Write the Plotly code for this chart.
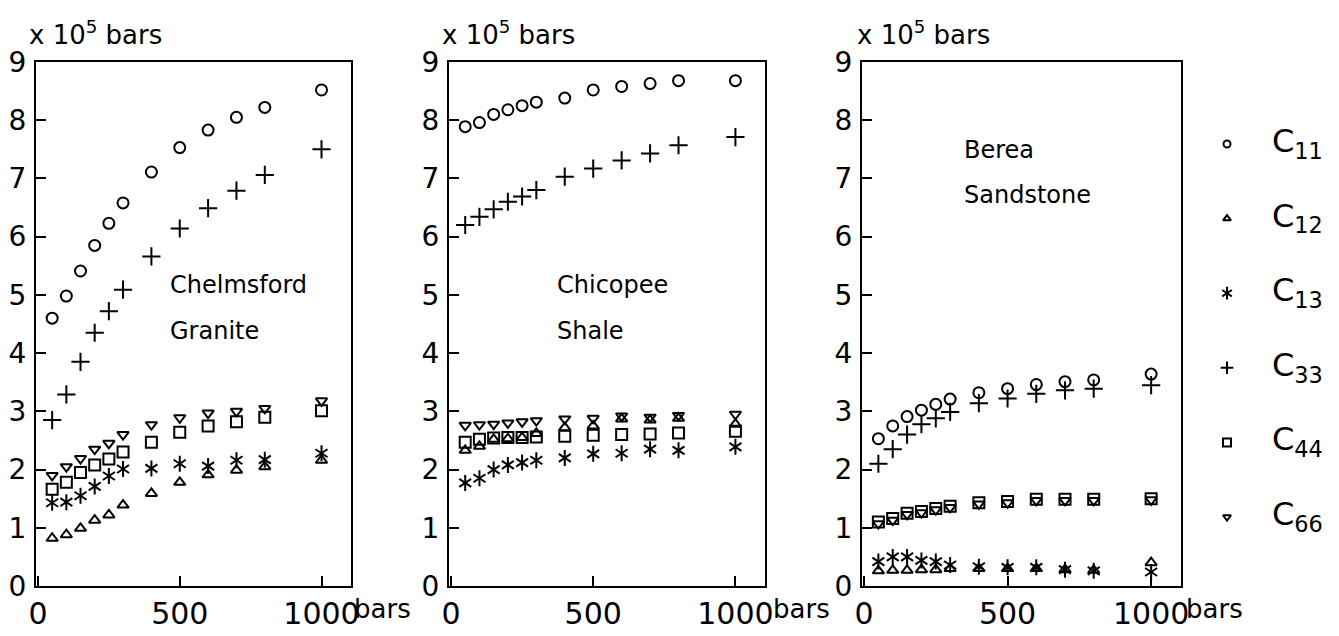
import plotly.graph_objects as go

W, H = 1339, 636

# ---------------- data (x10^5 bars) ----------------
PRESSURE = [50, 100, 150, 200, 250, 300, 400, 500, 600, 700, 800, 1000]

GRANITE_C11 = [4.60, 4.98, 5.41, 5.85, 6.23, 6.58, 7.11, 7.53, 7.83, 8.05, 8.22, 8.52]
GRANITE_C12 = [0.82, 0.88, 0.99, 1.13, 1.22, 1.39, 1.59, 1.78, 1.91, 1.99, 2.05, 2.16]
GRANITE_C13 = [1.43, 1.44, 1.55, 1.71, 1.89, 2.01, 2.02, 2.10, 2.06, 2.16, 2.17, 2.28]
GRANITE_C33 = [2.85, 3.29, 3.85, 4.35, 4.72, 5.09, 5.66, 6.14, 6.49, 6.79, 7.06, 7.50]
GRANITE_C44 = [1.66, 1.78, 1.95, 2.08, 2.18, 2.30, 2.47, 2.64, 2.75, 2.82, 2.90, 3.01]
GRANITE_C66 = [1.90, 2.05, 2.19, 2.35, 2.45, 2.60, 2.77, 2.89, 2.97, 3.00, 3.05, 3.18]

SHALE_C11 = [7.89, 7.96, 8.10, 8.18, 8.25, 8.31, 8.38, 8.52, 8.58, 8.63, 8.68, 8.68]
SHALE_C12 = [2.33, 2.40, 2.52, 2.53, 2.55, 2.62, 2.72, 2.75, 2.87, 2.85, 2.88, 2.78]
SHALE_C13 = [1.77, 1.85, 2.00, 2.08, 2.12, 2.16, 2.20, 2.27, 2.28, 2.35, 2.33, 2.39]
SHALE_C33 = [6.20, 6.34, 6.47, 6.60, 6.69, 6.80, 7.03, 7.17, 7.31, 7.43, 7.57, 7.71]
SHALE_C44 = [2.47, 2.52, 2.54, 2.55, 2.55, 2.56, 2.57, 2.59, 2.60, 2.61, 2.63, 2.66]
SHALE_C66 = [2.76, 2.77, 2.78, 2.80, 2.82, 2.84, 2.87, 2.88, 2.92, 2.90, 2.93, 2.95]

BEREA_C11 = [2.53, 2.75, 2.91, 3.02, 3.12, 3.21, 3.32, 3.39, 3.46, 3.51, 3.54, 3.64]
BEREA_C12 = [0.26, 0.27, 0.27, 0.28, 0.28, 0.30, 0.30, 0.30, 0.30, 0.28, 0.27, 0.40]
BEREA_C13 = [0.42, 0.50, 0.50, 0.44, 0.42, 0.36, 0.33, 0.32, 0.32, 0.28, 0.26, 0.24]
BEREA_C33 = [2.10, 2.35, 2.60, 2.78, 2.88, 2.99, 3.14, 3.22, 3.30, 3.36, 3.39, 3.45]
BEREA_C44 = [1.10, 1.16, 1.25, 1.28, 1.33, 1.37, 1.43, 1.45, 1.49, 1.49, 1.49, 1.50]
BEREA_C66 = [1.07, 1.13, 1.23, 1.26, 1.31, 1.35, 1.41, 1.43, 1.47, 1.47, 1.47, 1.48]

COEFFS = ["11", "12", "13", "33", "44", "66"]
PANEL_NAMES = [["Chelmsford", "Granite"], ["Chicopee", "Shale"], ["Berea", "Sandstone"]]
Y_TICKS = [0, 1, 2, 3, 4, 5, 6, 7, 8, 9]
X_TICKS = [0, 500, 1000]

# ---------------- styles ----------------
# each entry: list of symbols overlaid to build the glyph (6-point star = y-up + y-down)
SYMBOLS = [["circle-open"], ["triangle-up-open"], ["y-up-open", "y-down-open"],
           ["cross-thin-open"], ["square-open"], ["triangle-down-open"]]
SIZES = [11, 10, 10, 13, 11, 10]
LEG_SIZES = [7, 7, 8, 9, 8, 7]
FONT = "DejaVu Sans"

panels = [
    [GRANITE_C11, GRANITE_C12, GRANITE_C13, GRANITE_C33, GRANITE_C44, GRANITE_C66],
    [SHALE_C11, SHALE_C12, SHALE_C13, SHALE_C33, SHALE_C44, SHALE_C66],
    [BEREA_C11, BEREA_C12, BEREA_C13, BEREA_C33, BEREA_C44, BEREA_C66],
]

def px(x):
    return x / W

def py(y):
    return 1 - y / H

DOMAINS = [(36, 351), (449, 765), (862, 1181)]
Y_DOM = [py(586), py(62)]
HEADER_X = [27, 440, 855]
BARS_SHIFT = [30, 36, 33]

fig = go.Figure()
layout = {}
annotations = []

for p, series in enumerate(panels):
    sfx = "" if p == 0 else str(p + 1)
    for i, ys in enumerate(series):
        for sym in SYMBOLS[i]:
            fig.add_trace(go.Scatter(
                x=PRESSURE, y=ys, mode="markers",
                xaxis="x" + sfx, yaxis="y" + sfx,
                marker=dict(symbol=sym, size=SIZES[i], color="black",
                            line=dict(color="black", width=2)),
                showlegend=False, hoverinfo="skip"))
    d0, d1 = DOMAINS[p]
    layout["xaxis" + sfx] = dict(
        domain=[px(d0), px(d1)], range=[-7, 1104], anchor="y" + sfx,
        tickvals=X_TICKS, ticktext=[str(v) for v in X_TICKS],
        ticks="inside", ticklen=10, tickwidth=2, tickcolor="black",
        showline=True, mirror=True, linewidth=2, linecolor="black",
        showgrid=False, zeroline=False, automargin=False,
        tickfont=dict(family=FONT, size=30, color="black"))
    layout["yaxis" + sfx] = dict(
        domain=Y_DOM, range=[0, 9], anchor="x" + sfx,
        tickvals=Y_TICKS, ticktext=[str(v) for v in Y_TICKS],
        ticks="inside", ticklen=10, tickwidth=2, tickcolor="black",
        showline=True, mirror=True, linewidth=2, linecolor="black",
        showgrid=False, zeroline=False, ticklabelstandoff=2, automargin=False,
        tickfont=dict(family=FONT, size=28, color="black"))
    # header
    annotations.append(dict(
        text="x 10<sup>5</sup> bars", xref="paper", yref="paper",
        x=px(HEADER_X[p]), y=py(52), xanchor="left", yanchor="bottom",
        showarrow=False, font=dict(family=FONT, size=26, color="black")))
    # "bars" after 1000
    annotations.append(dict(
        text="bars", xref="x" + sfx, yref="paper", x=1000, y=py(609),
        xanchor="left", yanchor="middle", xshift=BARS_SHIFT[p], showarrow=False,
        font=dict(family=FONT, size=26, color="black")))

# panel names
NAME_POS = [((168, 285), (168, 331)), ((555, 285), (555, 331)), ((962, 150), (962, 195))]
for p, names in enumerate(PANEL_NAMES):
    for k, name in enumerate(names):
        xx, yy = NAME_POS[p][k]
        annotations.append(dict(
            text=name, xref="paper", yref="paper", x=px(xx), y=py(yy),
            xanchor="left", yanchor="middle", showarrow=False,
            font=dict(family=FONT, size=24, color="black")))

# legend as its own axis
leg_idx = list(range(len(COEFFS)))
for i, c in enumerate(COEFFS):
    for sym in SYMBOLS[i]:
        fig.add_trace(go.Scatter(
            x=[0], y=[leg_idx[i]], mode="markers", xaxis="x4", yaxis="y4",
            marker=dict(symbol=sym, size=LEG_SIZES[i], color="black",
                        line=dict(color="black", width=2)),
            showlegend=False, hoverinfo="skip"))
fig.add_trace(go.Scatter(
    x=[45] * len(COEFFS), y=leg_idx, mode="text",
    text=["C<sub>%s</sub>" % c for c in COEFFS], textposition="middle right",
    textfont=dict(family=FONT, size=32, color="black"),
    xaxis="x4", yaxis="y4", showlegend=False, hoverinfo="skip"))
layout["xaxis4"] = dict(domain=[px(1200), 1.0], range=[-27, 112], anchor="y4",
                        visible=False, fixedrange=True, automargin=False)
layout["yaxis4"] = dict(domain=Y_DOM, range=[5.925, -1.099], anchor="x4",
                        visible=False, fixedrange=True, automargin=False)

fig.update_layout(
    width=W, height=H, margin=dict(l=0, r=0, t=0, b=0, autoexpand=False),
    paper_bgcolor="white", plot_bgcolor="white",
    annotations=annotations, **layout)

fig.write_html(
    "out.html",
    config={"displayModeBar": False},
    post_script="document.body.style.margin='0';document.body.style.overflow='hidden';")
